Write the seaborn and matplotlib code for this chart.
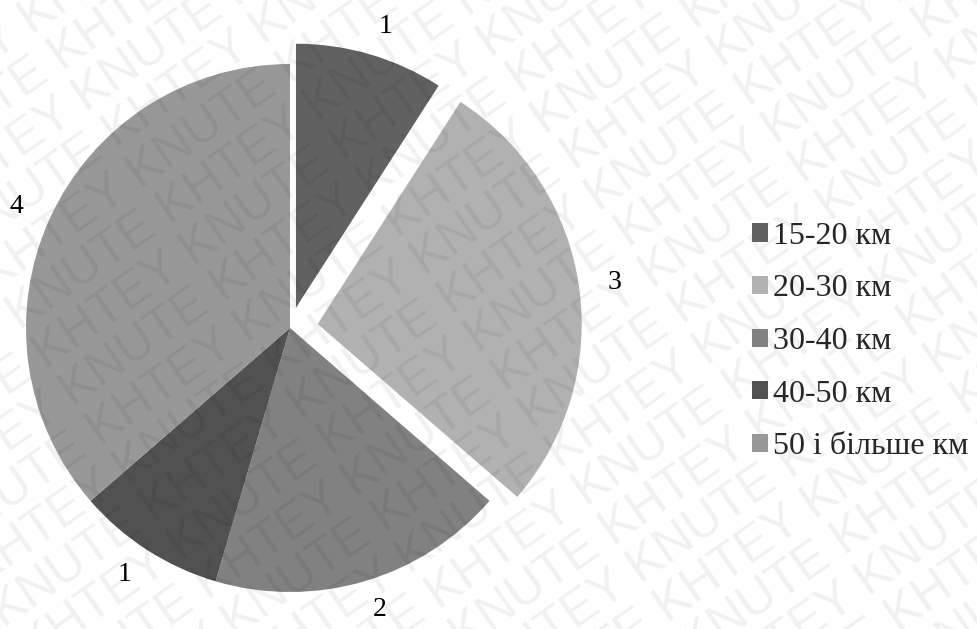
import numpy as np
import matplotlib
matplotlib.use('Agg')
import matplotlib.pyplot as plt
import seaborn as sns

# data
categories = ['15-20 км', '20-30 км', '30-40 км', '40-50 км', '50 і більше км']
values = [1, 3, 2, 1, 4]
explode = [0.08, 0.106, 0, 0, 0]
colors = ['#616161', '#b1b1b1', '#818181', '#515151', '#989898']
watermark_words = ['KNUTE', 'KHTEY']

sns.set_theme(style='white')
plt.rcParams['font.family'] = ['Liberation Serif', 'DejaVu Serif']

W, H = 977, 629
fig = plt.figure(figsize=(W / 100, H / 100), dpi=100)
ax = fig.add_axes([0, 0, 1, 1])

wedges, texts = ax.pie(values, explode=explode, colors=colors, startangle=90,
                       counterclock=False, labels=[str(v) for v in values],
                       labeldistance=1.11, radius=1,
                       wedgeprops=dict(linewidth=0),
                       textprops=dict(fontsize=20, color='black'))

# pixel scale: radius 264 px, centre at (290, 328) from top-left
r_px, cx, cy = 264, 290, 328
ax.set_xlim(-cx / r_px, (W - cx) / r_px)
ax.set_ylim(-(H - cy) / r_px, cy / r_px)
ax.set_aspect('auto')
ax.axis('off')

leg = fig.legend(wedges, categories, loc='center left',
                 bbox_to_anchor=(752 / W, 0.457), frameon=False,
                 fontsize=23, handlelength=0.5, handleheight=0.5,
                 handletextpad=0.15, labelspacing=0.74, borderpad=0,
                 borderaxespad=0)

# watermark, tiled diagonally
ang = np.deg2rad(35)
d = np.array([np.cos(ang), np.sin(ang)])
n = np.array([np.sin(ang), -np.cos(ang)])
pitch = 47
for i in range(-4, 27):
    p = np.array([0.0, H]) + i * pitch * n - 900 * d
    words = watermark_words if i % 2 == 0 else watermark_words[::-1]
    line = (' '.join(words) + ' ') * 8
    ax.text(p[0] / W, p[1] / H, line, transform=fig.transFigure,
            rotation=35, rotation_mode='anchor', fontsize=36,
            family=['Liberation Sans', 'DejaVu Sans'], color='black',
            alpha=0.06, ha='left', va='baseline', zorder=10, clip_on=True)

fig.savefig('out.png', dpi=100)
